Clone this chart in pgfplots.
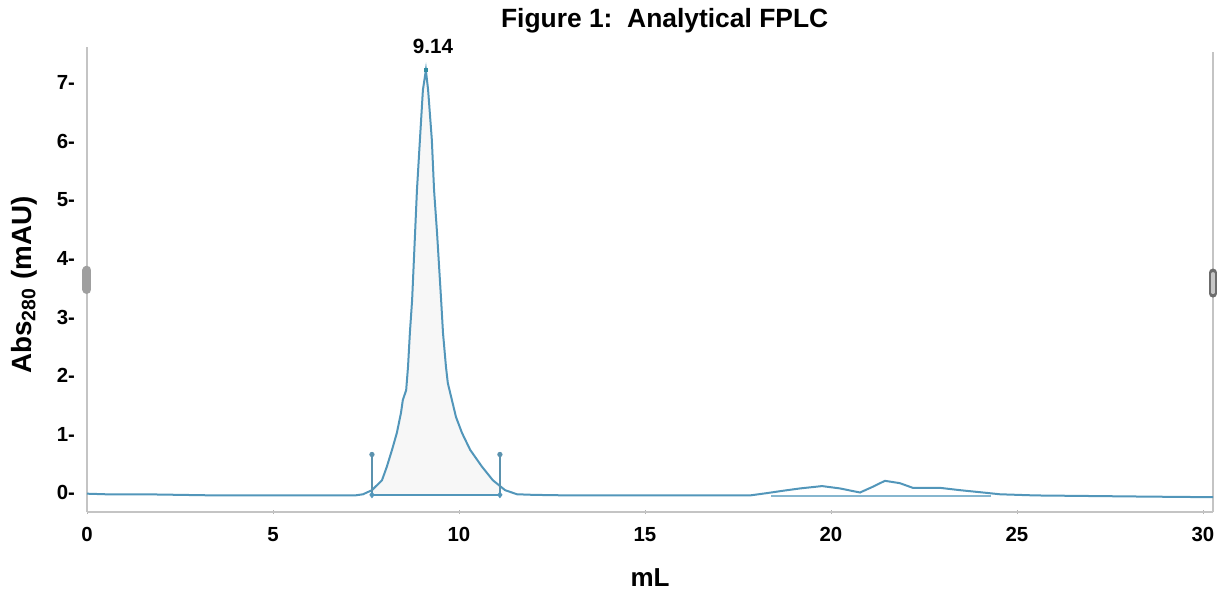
\documentclass[border=0pt]{standalone}
\usepackage{fontspec}
\setmainfont{Liberation Sans}
\usepackage{pgfplots}
\pgfplotsset{compat=1.18}
\definecolor{trace}{RGB}{82,150,186}
\definecolor{framegray}{RGB}{196,196,196}

\begin{document}
\begin{tikzpicture}
\useasboundingbox (-43.5pt,-41.5pt) rectangle (567pt,256pt);
\begin{axis}[
  scale only axis, width=563pt, height=232.5pt,
  xmin=0, xmax=30.27, ymin=-0.333, ymax=7.615,
  axis line style={draw=none},
  clip=false,
  xtick={0,5,10,15,20,25,30},
  xticklabels={0,5,10,15,20,25,30},
  ytick={0,1,2,3,4,5,6,7},
  yticklabels={0-,1-,2-,3-,4-,5-,6-,7-},
  xtick pos=bottom, ytick pos=left,
  tick align=center,
  xtick style={draw=gray!60, line width=0.4pt},
  major tick length=2pt,
  ytick style={draw=none},
  ticklabel style={font=\bfseries\fontsize{10.2}{11}\selectfont},
  xticklabel style={yshift=-3pt},
  yticklabel style={xshift=-1.5pt},
  xlabel={mL},
  xlabel style={at={(rel axis cs:0.5,-0.142)}, anchor=center,
    font=\bfseries\fontsize{13}{15}\selectfont},
  ylabel={Abs\textsubscript{280} (mAU)},
  ylabel style={at={(rel axis cs:-0.056,0.488)}, anchor=center,
    font=\bfseries\fontsize{13.9}{15}\selectfont},
]

% frame: left, bottom, right
\draw[framegray, line width=1pt] (rel axis cs:0,0) -- (rel axis cs:0,1);
\draw[framegray, line width=0.9pt] (rel axis cs:0,0) -- (rel axis cs:1,0);
\draw[framegray, line width=0.9pt] (rel axis cs:1,0) -- (rel axis cs:1,0.99);

% shaded peak area
\addplot[fill=gray!6, draw=none] coordinates {
  (7.66,-0.04) (7.66,0.04) (7.93,0.21) (8.06,0.44) (8.20,0.73) (8.33,1.02)
  (8.44,1.36) (8.49,1.58) (8.58,1.75) (8.63,2.15) (8.68,2.73) (8.74,3.29)
  (8.82,4.44) (8.87,5.17) (8.95,6.03) (9.03,6.88) (9.11,7.22) (9.17,6.88)
  (9.27,6.03) (9.33,5.17) (9.41,4.44) (9.52,3.29) (9.57,2.73) (9.65,2.15)
  (9.70,1.87) (9.81,1.58) (9.92,1.29) (10.08,1.02) (10.30,0.73) (10.62,0.44)
  (10.91,0.21) (11.10,0.11) (11.10,-0.04)
} -- cycle;

% integration baselines
\addplot[trace, line width=1pt] coordinates {(7.66,-0.04) (11.10,-0.04)};
\addplot[trace!70!white, line width=0.6pt] coordinates {(18.4,-0.06) (24.3,-0.06)};

% chromatogram
\addplot[trace, line width=1pt] coordinates {
  (0,-0.02) (0.5,-0.03) (1.5,-0.03) (2.5,-0.04) (3.5,-0.05) (5,-0.05)
  (6.5,-0.05) (7.2,-0.05) (7.42,-0.03) (7.66,0.04) (7.93,0.21) (8.06,0.44)
  (8.20,0.73) (8.33,1.02) (8.44,1.36) (8.49,1.58) (8.58,1.75) (8.63,2.15)
  (8.68,2.73) (8.74,3.29) (8.82,4.44) (8.87,5.17) (8.95,6.03) (9.03,6.88)
  (9.11,7.22) (9.17,6.88) (9.27,6.03) (9.33,5.17) (9.41,4.44) (9.52,3.29)
  (9.57,2.73) (9.65,2.15) (9.70,1.87) (9.81,1.58) (9.92,1.29) (10.08,1.02)
  (10.30,0.73) (10.62,0.44) (10.91,0.21) (11.24,0.04) (11.56,-0.03)
  (12,-0.04) (13,-0.05) (15,-0.05) (17,-0.05) (17.82,-0.05) (18.28,-0.01)
  (18.71,0.03) (19.17,0.07) (19.76,0.11) (20.24,0.07) (20.78,0.00)
  (21.13,0.10) (21.45,0.20) (21.85,0.16) (22.20,0.08) (22.93,0.08)
  (23.47,0.04) (24.09,0.00) (24.54,-0.03) (25.5,-0.05) (27,-0.06)
  (28.5,-0.07) (30.27,-0.08)
};

% peak boundary markers
\addplot[trace!80!gray, line width=0.6pt] coordinates {(7.66,-0.04) (7.66,0.65)};
\addplot[trace!80!gray, line width=0.6pt] coordinates {(11.10,-0.04) (11.10,0.65)};
\addplot[trace!80!gray, only marks, mark=*, mark size=1.1pt] coordinates {(7.66,0.65) (11.10,0.65)};
\addplot[trace, only marks, mark=diamond*, mark size=1.4pt] coordinates {(7.66,-0.04) (11.10,-0.04)};
\addplot[trace!60!teal, only marks, mark=square*, mark size=0.8pt] coordinates {(9.11,7.22)};

% slider handles
\addplot[gray!75, line width=4.5pt, line cap=round] coordinates {(0,3.47) (0,3.80)};
\addplot[gray!85!black, line width=4pt, line cap=round] coordinates {(30.27,3.40) (30.27,3.76)};
\addplot[gray!45, line width=1.6pt, line cap=round] coordinates {(30.27,3.42) (30.27,3.74)};

% annotations
\node[font=\bfseries\fontsize{10.3}{12}\selectfont, anchor=base] at (axis cs:9.30,7.50) {9.14};
\node[font=\bfseries\fontsize{13.2}{15}\selectfont, anchor=base] at (rel axis cs:0.513,1.041) {Figure 1:\ \ Analytical FPLC};
\end{axis}
\end{tikzpicture}
\end{document}
